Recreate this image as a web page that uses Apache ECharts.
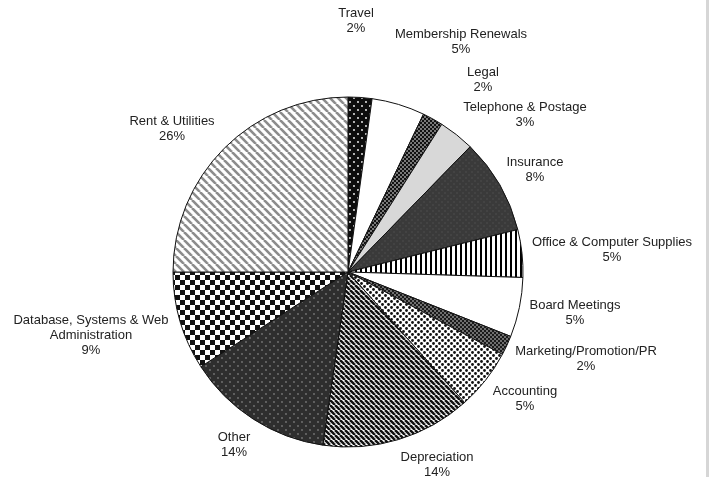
<!DOCTYPE html>
<html>
<head>
<meta charset="utf-8">
<script src="https://cdn.jsdelivr.net/npm/echarts@6/dist/echarts.min.js"></script>
<style>
  html, body { margin: 0; padding: 0; background: #fff; }
  #main { width: 711px; height: 477px; }
  #edge { position: absolute; left: 706px; top: 0; width: 3px; height: 477px; background: #d6d6d6; }
</style>
</head>
<body>
<div id="main"></div>
<div id="edge"></div>
<script>
// categories, clockwise from 12 o'clock
var names = ['Travel', 'Membership Renewals', 'Legal', 'Telephone & Postage', 'Insurance',
    'Office & Computer Supplies', 'Board Meetings', 'Marketing/Promotion/PR', 'Accounting',
    'Depreciation', 'Other', 'Database, Systems & Web\nAdministration', 'Rent & Utilities'];
// slice sizes (percent)
var values = [2.2, 4.9, 1.9, 3.3, 8.8, 4.4, 5.5, 1.8, 5.6, 13.9, 13.6, 9.1, 25];
// percentages as printed on the labels
var pctLabels = [2, 5, 2, 3, 8, 5, 5, 2, 5, 14, 14, 9, 26];

// label centres
var labelX = [356, 461, 483, 525, 535, 612, 575, 586, 525, 437, 234, 91, 172];
var labelY = [21, 42, 80, 115, 170, 250, 313, 359, 399, 465, 445, 335, 129];

function makePattern(w, h, bg, draw) {
    var c = document.createElement('canvas');
    c.width = w;
    c.height = h;
    var ctx = c.getContext('2d');
    ctx.fillStyle = bg;
    ctx.fillRect(0, 0, w, h);
    if (draw) draw(ctx, w, h);
    return { image: c, repeat: 'repeat' };
}

function dots(color, pts, r) {
    return function (ctx) {
        ctx.fillStyle = color;
        pts.forEach(function (p) {
            ctx.beginPath();
            ctx.arc(p[0], p[1], r, 0, Math.PI * 2);
            ctx.fill();
        });
    };
}

function diag(color, lw) {
    return function (ctx, w, h) {
        ctx.strokeStyle = color;
        ctx.lineWidth = lw;
        for (var k = -1; k <= 1; k++) {
            ctx.beginPath();
            ctx.moveTo(k * w, 0);
            ctx.lineTo(k * w + w, h);
            ctx.stroke();
        }
    };
}

var fills = [
    makePattern(8, 8, '#0d0d0d', dots('#fff', [[2, 2], [6, 6]], 0.9)),           // travel
    '#ffffff',                                                                  // membership
    makePattern(4, 4, '#111', dots('#fff', [[1, 1], [3, 3]], 0.8)),             // legal
    '#d8d8d8',                                                                  // telephone
    makePattern(6, 6, '#3a3a3a', dots('#555', [[1, 1], [4, 4]], 0.7)),          // insurance
    makePattern(5, 1, '#fff', function (ctx) { ctx.fillStyle = '#000'; ctx.fillRect(0, 0, 2, 1); }), // office
    '#ffffff',                                                                  // board
    makePattern(4, 4, '#1a1a1a', dots('#ddd', [[1, 1], [3, 3]], 0.8)),          // marketing
    makePattern(6, 6, '#fff', dots('#111', [[1.5, 1.5], [4.5, 4.5]], 1.4)),     // accounting
    makePattern(5, 5, '#fff', diag('#111', 2.5)),                               // depreciation
    makePattern(8, 8, '#2e2e2e', dots('#777', [[2, 2], [6, 6]], 0.9)),          // other
    makePattern(10, 10, '#fff', function (ctx) {                                // database
        ctx.fillStyle = '#111';
        ctx.fillRect(0, 0, 5, 5);
        ctx.fillRect(5, 5, 5, 5);
    }),
    makePattern(8, 8, '#fff', diag('#8c8c8c', 2.6))                             // rent
];

var pieData = names.map(function (n, i) {
    return { name: n, value: values[i], itemStyle: { color: fills[i] } };
});

var myChart = echarts.init(document.getElementById('main'));

var option = {
    animation: false,
    series: [
        {
            type: 'pie',
            center: [348, 272],
            radius: 175,
            startAngle: 90,
            clockwise: true,
            avoidLabelOverlap: false,
            emphasis: { disabled: true },
            itemStyle: { borderColor: '#111', borderWidth: 1 },
            label: {
                show: true,
                position: 'outside',
                color: '#222',
                fontFamily: 'Liberation Sans, Arial, sans-serif',
                fontSize: 13,
                lineHeight: 15,
                align: 'center',
                formatter: function (p) {
                    return p.name + '\n' + pctLabels[p.dataIndex] + '%';
                }
            },
            labelLine: { show: false },
            labelLayout: function (params) {
                var i = params.dataIndex;
                return { x: labelX[i], y: labelY[i], align: 'center', verticalAlign: 'middle' };
            },
            data: pieData
        }
    ]
};

myChart.setOption(option);
</script>
</body>
</html>
